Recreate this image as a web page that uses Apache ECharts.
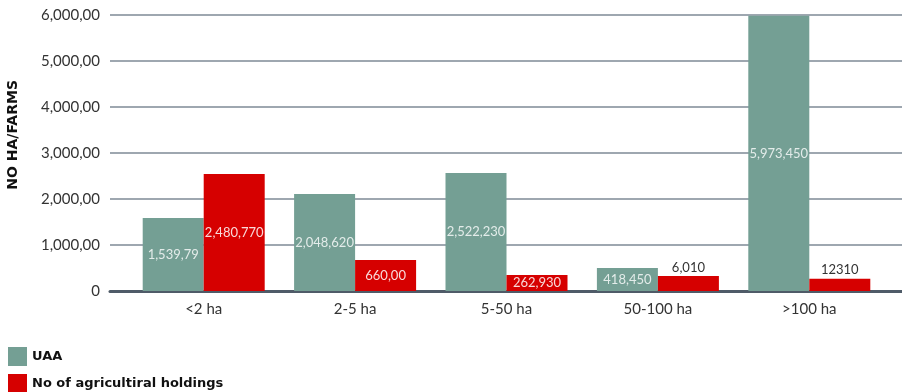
<!DOCTYPE html>
<html>
<head>
<meta charset="utf-8">
<script src="https://cdn.jsdelivr.net/npm/echarts@6/dist/echarts.min.js"></script>
<style>
html, body { margin: 0; padding: 0; background: #fff; }
#chart { width: 902px; height: 392px; }
</style>
</head>
<body>
<div id="chart"></div>
<script>
var categories = ['<2 ha', '2-5 ha', '5-50 ha', '50-100 ha', '>100 ha'];
var uaaValues = [1587, 2109, 2565, 500, 5985];
var holdingsValues = [2543, 674, 348, 326, 267];
var uaaLabels = ['1,539,79', '2,048,620', '2,522,230', '418,450', '5,973,450'];
var holdingsLabels = ['2,480,770', '660,00', '262,930', '6,010', '12310'];
var yTicks = [0, 1000, 2000, 3000, 4000, 5000, 6000];
var yTickLabels = ['0', '1,000,00', '2,000,00', '3,000,00', '4,000,00', '5,000,00', '6,000,00'];
var outsideLabel = [false, false, false, true, true]; // small red bars get the label on top

var myChart = echarts.init(document.getElementById('chart'));

var font = 'Lato, "Open Sans", sans-serif';
var boldFont = '"DejaVu Sans", sans-serif';

function holdingsData() {
    return holdingsValues.map(function (v, i) {
        var item = { value: v };
        if (outsideLabel[i]) {
            item.label = { position: 'top', distance: 2, color: '#333' };
        }
        return item;
    });
}

var legendText = { fontFamily: boldFont, fontSize: 13, fontWeight: 'bold', color: '#111' };

var option = {
    animation: false,
    color: ['#749f94', '#d60000'],
    textStyle: { fontFamily: font },
    grid: [
        { left: 110, right: 0, top: 15, bottom: 101 },
        { left: 128, right: 17, top: 15, bottom: 101 }
    ],
    legend: [
        {
            left: 3, top: 342, padding: 5, icon: 'rect', itemWidth: 19, itemHeight: 19,
            textStyle: legendText,
            data: ['UAA']
        },
        {
            left: 3, top: 369, padding: 5, icon: 'rect', itemWidth: 19, itemHeight: 19,
            textStyle: legendText,
            data: ['No of agricultiral holdings']
        }
    ],
    graphic: [{
        type: 'text',
        left: 6,
        top: 80,
        rotation: Math.PI / 2,
        style: {
            text: 'NO HA/FARMS',
            font: 'bold 14px ' + boldFont,
            fill: '#111'
        }
    }],
    xAxis: [
        {
            gridIndex: 0,
            type: 'category',
            data: [''],
            axisLine: { lineStyle: { color: '#4f5b68', width: 3 } },
            axisTick: { show: false },
            axisLabel: { show: false }
        },
        {
            gridIndex: 1,
            type: 'category',
            data: categories,
            axisLine: { show: false },
            axisTick: { show: false },
            axisLabel: { margin: 11, fontSize: 15, color: '#333', fontFamily: font }
        }
    ],
    yAxis: [
        {
            gridIndex: 0,
            type: 'value',
            min: 0,
            max: 6000,
            interval: 1000,
            axisLine: { show: false },
            axisTick: { show: false },
            splitLine: { lineStyle: { color: '#9ea7b0', width: 2 } },
            axisLabel: {
                margin: 10,
                fontSize: 15,
                color: '#333',
                fontFamily: font,
                formatter: function (v) {
                    return yTickLabels[yTicks.indexOf(v)];
                }
            }
        },
        {
            gridIndex: 1,
            type: 'value',
            min: 0,
            max: 6000,
            interval: 1000,
            show: false
        }
    ],
    series: [
        {
            name: 'UAA',
            type: 'bar',
            xAxisIndex: 1,
            yAxisIndex: 1,
            barWidth: 61,
            barGap: '0%',
            label: {
                show: true,
                position: 'inside',
                fontSize: 13,
                fontFamily: font,
                color: 'rgba(255,255,255,0.8)',
                formatter: function (p) { return uaaLabels[p.dataIndex]; }
            },
            data: uaaValues
        },
        {
            name: 'No of agricultiral holdings',
            type: 'bar',
            xAxisIndex: 1,
            yAxisIndex: 1,
            barWidth: 61,
            barGap: '0%',
            label: {
                show: true,
                position: 'inside',
                fontSize: 13,
                fontFamily: font,
                color: 'rgba(255,255,255,0.85)',
                formatter: function (p) { return holdingsLabels[p.dataIndex]; }
            },
            data: holdingsData()
        }
    ]
};
myChart.setOption(option);
</script>
</body>
</html>
